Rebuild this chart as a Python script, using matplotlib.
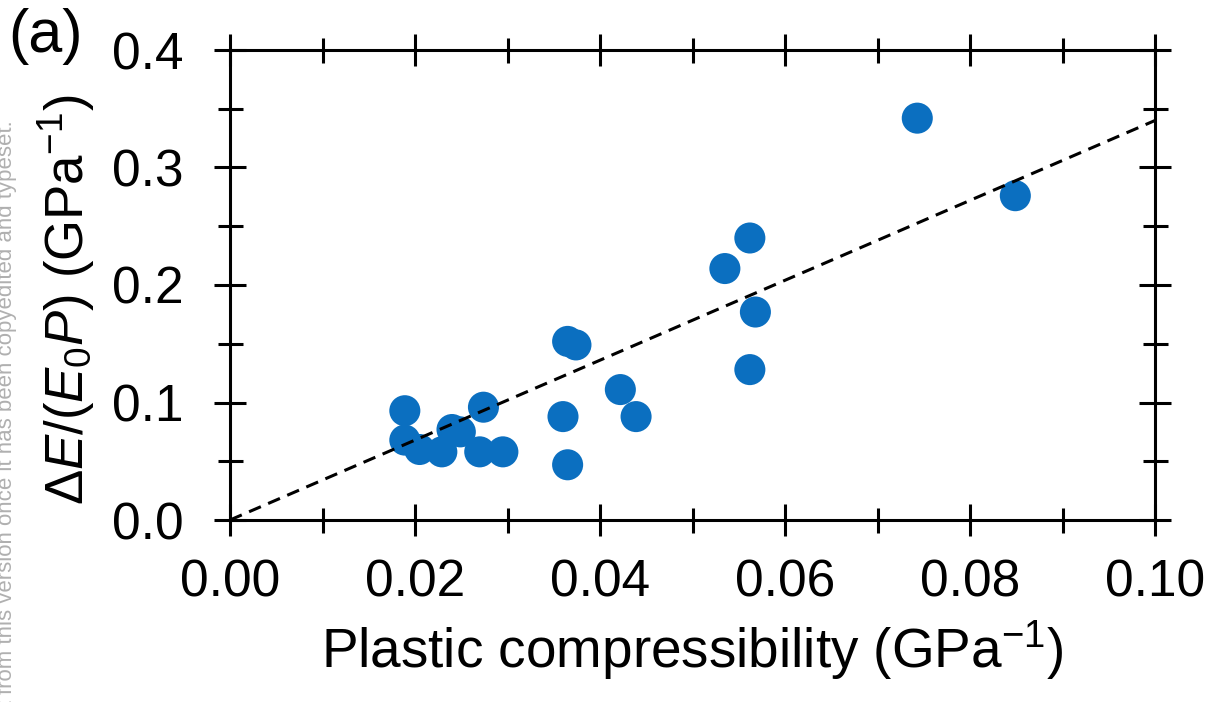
import numpy as np
import matplotlib
matplotlib.use('Agg')
import matplotlib.pyplot as plt
from matplotlib.ticker import MultipleLocator

plt.rcParams['font.family'] = ['Liberation Sans', 'DejaVu Sans']
plt.rcParams['mathtext.fontset'] = 'custom'
plt.rcParams['mathtext.rm'] = 'Liberation Sans'
plt.rcParams['mathtext.it'] = 'Liberation Sans:italic'

# plastic compressibility (GPa^-1) vs normalised energy change
compressibility = [0.0189, 0.0189, 0.0205, 0.0229, 0.0240, 0.0249, 0.0274, 0.0270,
                   0.0295, 0.0360, 0.0365, 0.0365, 0.0374, 0.0422, 0.0439, 0.0535,
                   0.0562, 0.0568, 0.0562, 0.0743, 0.0849]
energy_ratio = [0.093, 0.068, 0.060, 0.058, 0.077, 0.075, 0.096, 0.058,
                0.058, 0.088, 0.047, 0.152, 0.149, 0.111, 0.088, 0.214,
                0.240, 0.177, 0.128, 0.342, 0.276]

fit_slope = 3.4
fit_x = [0.0, 0.1]

blue = '#0b6fc0'

fig = plt.figure(figsize=(12.17, 7.02), dpi=100)
ax = fig.add_axes([230/1217, 1-520/702, 925/1217, 470/702])

ax.scatter(compressibility, energy_ratio, s=500, c=blue, edgecolors='none', zorder=3)
fit_y = [fit_slope * v for v in fit_x]
line, = ax.plot(fit_x, fit_y, color='black', lw=2.2, zorder=4)
line.set_dashes([4.2, 2.6])

ax.set_xlim(0, 0.1)
ax.set_ylim(0, 0.4)
ax.xaxis.set_major_locator(MultipleLocator(0.02))
ax.xaxis.set_minor_locator(MultipleLocator(0.01))
ax.yaxis.set_major_locator(MultipleLocator(0.1))
ax.yaxis.set_minor_locator(MultipleLocator(0.05))
ax.xaxis.set_major_formatter(plt.FormatStrFormatter('%.2f'))
ax.yaxis.set_major_formatter(plt.FormatStrFormatter('%.1f'))

for s in ax.spines.values():
    s.set_linewidth(2.2)
ax.tick_params(which='both', direction='inout', top=True, right=True, width=2.2)
ax.tick_params(which='major', length=23, labelsize=37)
ax.tick_params(axis='x', which='major', pad=16)
ax.tick_params(axis='y', which='major', pad=22)
ax.tick_params(which='minor', length=18)

ax.set_xlabel('Plastic compressibility (GPa$^{-1}$)', fontsize=39.5, labelpad=8)
ax.set_ylabel(r'$\Delta\mathit{E/}(\mathit{E}_0\mathit{P})$ (GPa$^{-1}$)', fontsize=38)
ax.yaxis.set_label_coords(-133/925, 220/470)

fig.text(8/1217, 1-8/702, '(a)', fontsize=44, ha='left', va='top')

fig.text(12/1217, 1-120/702,
         "This is the author's peer reviewed, accepted manuscript. However, the online version of record "
         "will be different from this version once it has been copyedited and typeset.",
         rotation=90, rotation_mode='anchor', ha='right', va='baseline',
         fontsize=16, color='#b0b0b0')

fig.savefig('out.png', dpi=100)
